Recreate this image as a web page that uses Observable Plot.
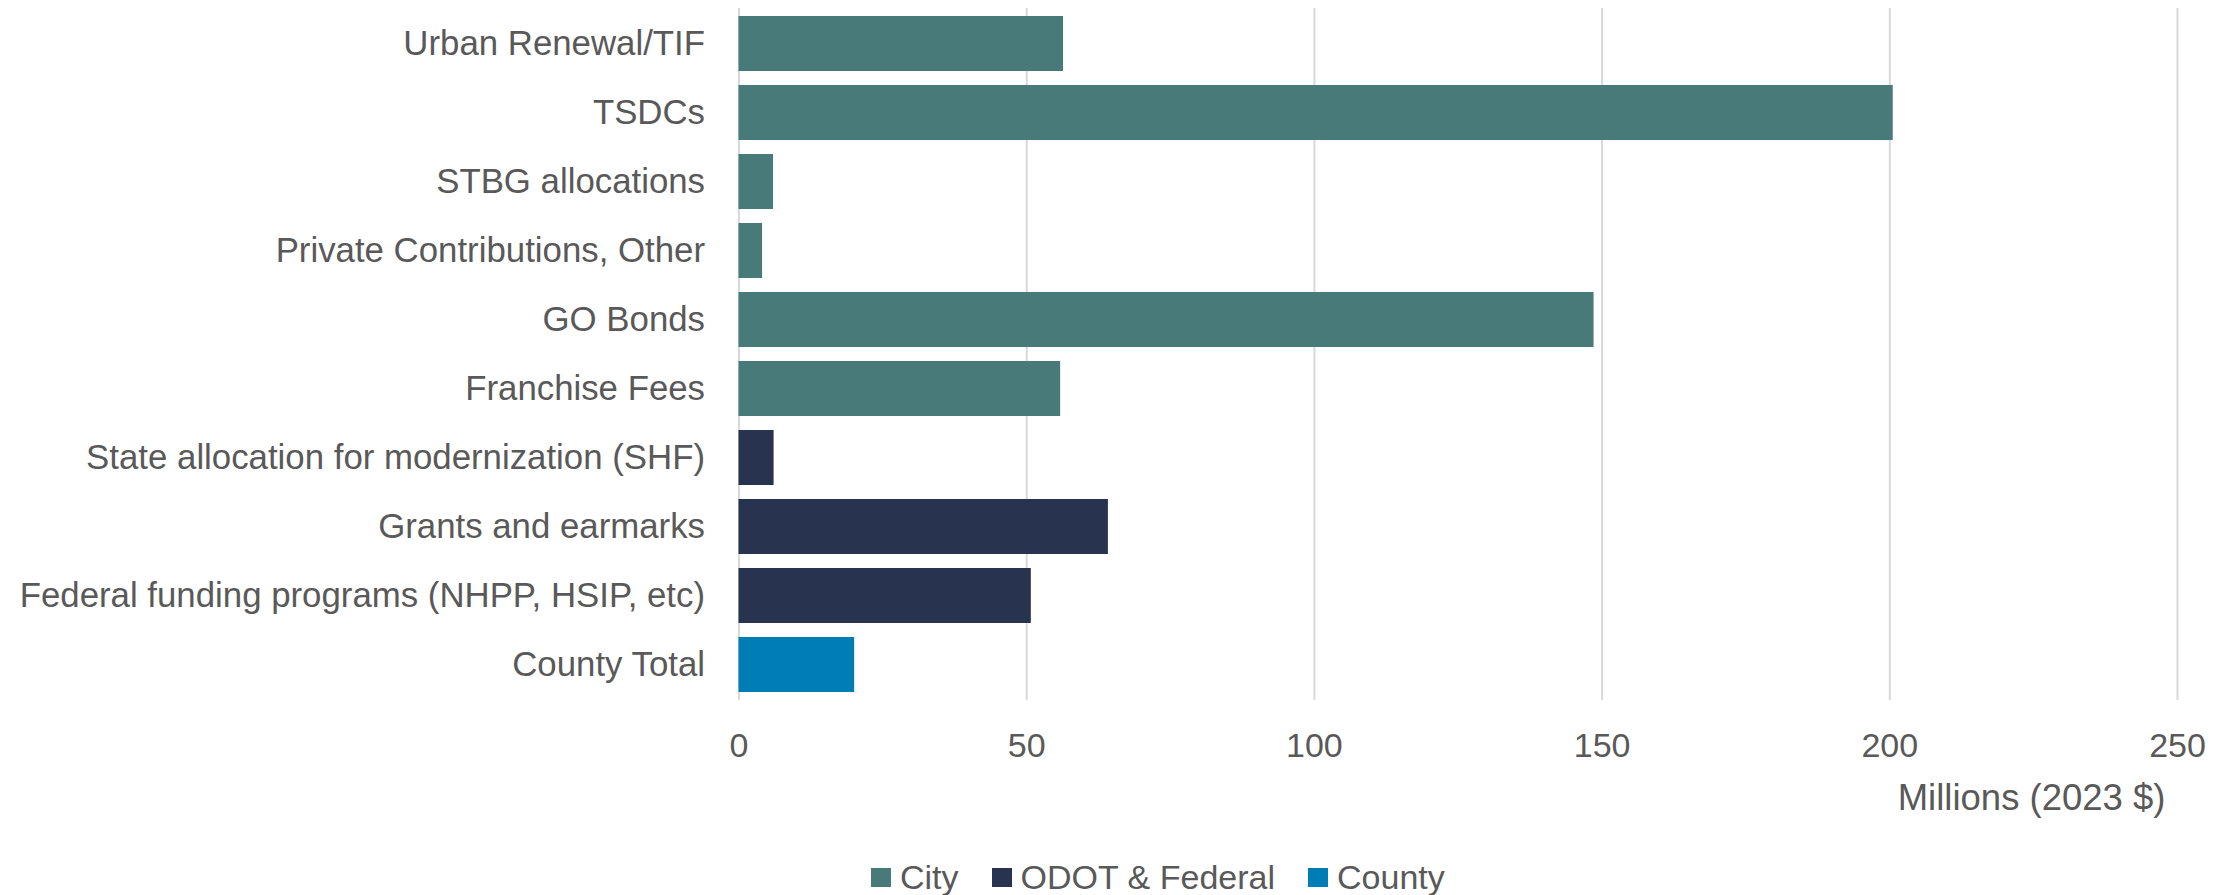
<!DOCTYPE html>
<html>
<head>
<meta charset="utf-8">
<script src="https://cdn.jsdelivr.net/npm/d3@7"></script>
<script src="https://cdn.jsdelivr.net/npm/@observablehq/plot@0.6"></script>
<style>
  html, body { margin: 0; padding: 0; background: #fff; }
  #wrap { position: relative; width: 2239px; height: 895px; overflow: hidden; font-family: "Liberation Sans", Arial, sans-serif; }
  #legend { position: absolute; left: 871px; top: 860px; display: flex; align-items: center; font-size: 34px; color: #595959; line-height: 34px; }
  #legend .item { display: flex; align-items: center; margin-right: 33px; }
  #legend .sw { width: 20px; height: 19px; margin-right: 9px; }
</style>
</head>
<body>
<div id="wrap"></div>
<script>
const categories = [
  "Urban Renewal/TIF",
  "TSDCs",
  "STBG allocations",
  "Private Contributions, Other",
  "GO Bonds",
  "Franchise Fees",
  "State allocation for modernization (SHF)",
  "Grants and earmarks",
  "Federal funding programs (NHPP, HSIP, etc)",
  "County Total"
];
const values = [56.4, 200.6, 6.0, 4.1, 148.6, 55.9, 6.1, 64.2, 50.8, 20.1];
const groups = ["City", "City", "City", "City", "City", "City", "ODOT & Federal", "ODOT & Federal", "ODOT & Federal", "County"];
const seriesNames = ["City", "ODOT & Federal", "County"];
const seriesColors = ["#487a7a", "#28334f", "#007db4"];
const xTicks = [0, 50, 100, 150, 200, 250];
const xLabel = "Millions (2023 $)";

const data = categories.map((c, i) => ({category: c, value: values[i], group: groups[i]}));

const textColor = "#595959";
const plot = Plot.plot({
  width: 2239,
  height: 850,
  marginLeft: 738.5,
  marginRight: 62,
  marginTop: 8,
  marginBottom: 150,
  style: {fontFamily: "'Liberation Sans', Arial, sans-serif", fontSize: "34px", color: textColor, background: "transparent"},
  x: {domain: [0, 250], ticks: xTicks, label: null},
  y: {domain: categories, paddingInner: 0.2, paddingOuter: 0.1, label: null},
  color: {domain: seriesNames, range: seriesColors},
  marks: [
    Plot.gridX(xTicks, {stroke: "#d9d9d9", strokeOpacity: 1, strokeWidth: 2}),
    Plot.barX(data, {x: "value", y: "category", fill: "group"}),
    Plot.axisX(xTicks, {tickSize: 0, tickPadding: 32, fill: textColor, fontSize: 34, label: null}),
    Plot.axisY({tickSize: 0, tickPadding: 34, fill: textColor, fontSize: 34.8, label: null}),
    Plot.text([xLabel], {frameAnchor: "bottom-right", dx: -12, dy: 84, lineAnchor: "top", textAnchor: "end", fill: textColor, fontSize: 36.5})
  ]
});

const wrap = document.getElementById("wrap");
wrap.appendChild(plot);

const colorScale = plot.scale("color");
const legend = document.createElement("div");
legend.id = "legend";
colorScale.domain.forEach((name, i) => {
  const item = document.createElement("div");
  item.className = "item";
  const sw = document.createElement("span");
  sw.className = "sw";
  sw.style.background = colorScale.range[i];
  const t = document.createElement("span");
  t.textContent = name;
  item.appendChild(sw);
  item.appendChild(t);
  legend.appendChild(item);
});
wrap.appendChild(legend);
</script>
</body>
</html>
